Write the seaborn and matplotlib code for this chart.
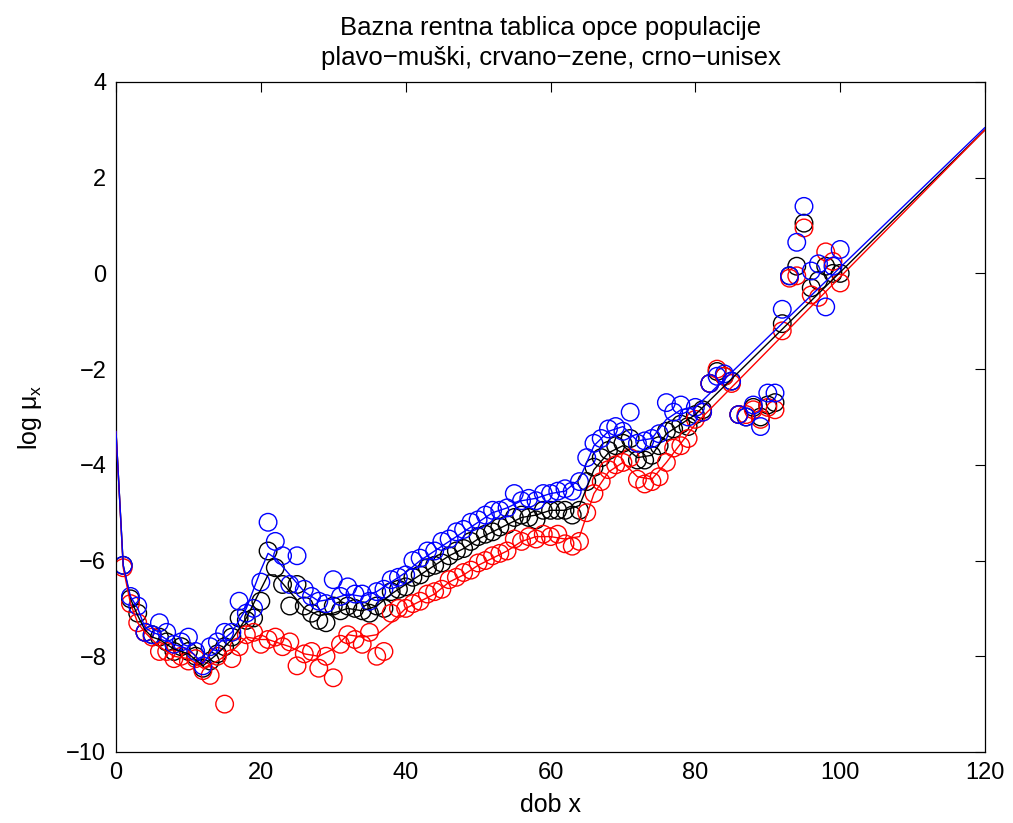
import numpy as np
import pandas as pd
import matplotlib
matplotlib.use("Agg")
import matplotlib.pyplot as plt
import seaborn as sns

# ---- data ----
ages = list(range(1, 101))

male_obs = [-6.1, -6.75, -6.95, -7.5, -7.55, -7.3, -7.5, -7.75, -7.7, -7.6,
            -7.9, -8.2, -7.8, -7.7, -7.5, -7.5, -6.85, -7.1, -7.0, -6.45,
            -5.2, -5.6, -5.9, -6.5, -5.9, -6.6, -6.75, -6.85, -6.9, -6.4,
            -6.75, -6.55, -6.7, -6.7, -6.85, -6.65, -6.6, -6.4, -6.35, -6.3,
            -6.0, -5.95, -5.8, -5.8, -5.6, -5.55, -5.4, -5.35, -5.2, -5.15,
            -5.05, -4.95, -4.95, -4.9, -4.6, -4.75, -4.7, -4.75, -4.6, -4.6,
            -4.55, -4.5, -4.55, -4.35, -3.85, -3.55, -3.45, -3.25, -3.2, -3.3,
            -2.9, -3.55, -3.5, -3.45, -3.35, -2.7, -2.9, -2.75, -3.0, -2.8,
            -2.9, -2.3, -2.15, -2.1, -2.25, -2.95, -3.0, -2.75, -3.2, -2.5,
            -2.5, -0.75, -0.05, 0.65, 1.4, 0.05, 0.2, -0.7, 0.15, 0.5]

female_obs = [-6.15, -6.9, -7.3, -7.5, -7.6, -7.9, -7.9, -8.05, -8.0, -8.1,
              -8.05, -8.3, -8.4, -8.0, -9.0, -8.05, -7.8, -7.55, -7.5, -7.75,
              -7.65, -7.6, -7.8, -7.7, -8.2, -7.95, -7.9, -8.25, -8.0, -8.45,
              -7.75, -7.55, -7.65, -7.75, -7.5, -8.0, -7.9, -7.1, -7.0, -7.0,
              -6.9, -6.85, -6.7, -6.65, -6.6, -6.4, -6.35, -6.25, -6.2, -6.05,
              -6.0, -5.9, -5.85, -5.8, -5.55, -5.6, -5.5, -5.55, -5.45, -5.5,
              -5.45, -5.65, -5.7, -5.6, -5.0, -4.6, -4.35, -4.1, -4.0, -3.95,
              -3.85, -4.3, -4.4, -4.35, -4.25, -3.95, -3.65, -3.6, -3.45, -3.05,
              -2.9, -2.3, -2.0, -2.15, -2.3, -2.95, -2.95, -2.85, -3.05, -2.8,
              -2.85, -1.2, -0.1, -0.05, 0.95, -0.45, -0.5, 0.45, 0.25, -0.2]

unisex_obs = [-6.1, -6.8, -7.1, -7.5, -7.55, -7.6, -7.7, -7.9, -7.8, -7.9,
              -8.0, -8.25, -8.1, -7.95, -7.8, -7.6, -7.2, -7.25, -7.2, -6.85,
              -5.8, -6.15, -6.5, -6.95, -6.5, -6.95, -7.1, -7.25, -7.3, -6.95,
              -7.05, -6.95, -7.0, -7.05, -7.1, -6.95, -7.0, -6.65, -6.6, -6.55,
              -6.35, -6.3, -6.15, -6.1, -6.05, -5.9, -5.8, -5.75, -5.6, -5.5,
              -5.45, -5.4, -5.3, -5.25, -5.1, -5.05, -5.1, -5.15, -4.95, -4.95,
              -4.95, -4.95, -5.05, -4.95, -4.35, -4.05, -3.85, -3.7, -3.6, -3.55,
              -3.45, -3.9, -3.9, -3.8, -3.6, -3.3, -3.25, -3.15, -3.2, -2.95,
              -2.85, -2.3, -2.05, -2.15, -2.25, -2.95, -3.0, -2.8, -3.0, -2.75,
              -2.7, -1.05, -0.05, 0.15, 1.05, -0.3, -0.15, 0.15, 0.0, 0.0]

fit_ages = [0, 1, 2, 3, 4, 5, 6, 8, 10, 12, 14, 16, 18, 20, 21, 22, 24, 26, 28,
            30, 32, 34, 36, 38, 40, 42, 44, 46, 48, 50, 52, 54, 56, 58, 60, 62,
            64, 66, 68, 70, 72, 74, 76, 78, 80, 120]

male_fit = [-3.3, -6.1, -6.75, -7.0, -7.4, -7.5, -7.55, -7.75, -7.85, -8.15,
            -7.75, -7.5, -7.0, -6.2, -5.85, -5.95, -6.3, -6.65, -6.85, -6.8,
            -6.7, -6.75, -6.65, -6.45, -6.25, -6.0, -5.8, -5.6, -5.4, -5.2,
            -5.0, -4.9, -4.75, -4.7, -4.6, -4.55, -4.3, -3.6, -3.3, -3.2,
            -3.5, -3.45, -3.05, -2.85, -2.8, 3.05]

female_fit = [-3.3, -6.15, -6.9, -7.3, -7.5, -7.65, -7.8, -8.0, -8.05, -8.25,
              -8.1, -7.9, -7.6, -7.65, -7.65, -7.7, -7.8, -7.95, -8.0, -7.85,
              -7.55, -7.6, -7.55, -7.3, -7.0, -6.85, -6.7, -6.45, -6.3, -6.1,
              -5.95, -5.8, -5.6, -5.5, -5.5, -5.55, -5.5, -4.6, -4.15, -3.95,
              -4.25, -4.3, -3.95, -3.55, -3.15, 3.0]

unisex_fit = [-3.3, -6.1, -6.8, -7.15, -7.45, -7.6, -7.65, -7.85, -7.95, -8.2,
              -7.95, -7.65, -7.2, -6.6, -6.3, -6.3, -6.65, -7.0, -7.15, -7.1,
              -7.0, -7.05, -6.95, -6.7, -6.5, -6.3, -6.1, -5.9, -5.75, -5.55,
              -5.4, -5.25, -5.1, -5.05, -4.95, -4.95, -4.85, -4.1, -3.75, -3.6,
              -3.85, -3.8, -3.35, -3.15, -2.95, 3.0]

title_lines = ["Bazna rentna tablica opce populacije",
               "plavo\u2212muški, crvano\u2212zene, crno\u2212unisex"]
x_ticks = [0, 20, 40, 60, 80, 100, 120]
y_ticks = [-10, -8, -6, -4, -2, 0, 2, 4]

# ---- style ----
sns.set_theme(style="white")
plt.rcParams["font.family"] = ["Liberation Sans", "DejaVu Sans"]
plt.rcParams["mathtext.fontset"] = "custom"
plt.rcParams["mathtext.rm"] = "Liberation Sans"
plt.rcParams["mathtext.it"] = "Liberation Sans"
plt.rcParams["text.color"] = "black"
plt.rcParams["axes.labelcolor"] = "black"

fig = plt.figure(figsize=(10.13, 8.23), dpi=100)
ax = fig.add_axes([0.1145, 0.0863, 0.8579, 0.8141])

series = [
    (unisex_obs, unisex_fit, "black"),
    (female_obs, female_fit, "red"),
    (male_obs, male_fit, "blue"),
]

for obs, fit, col in series:
    sns.scatterplot(x=ages, y=obs, ax=ax, marker="o", s=160,
                    facecolors="none", edgecolor=col, linewidth=1.0,
                    zorder=2, legend=False)
for obs, fit, col in series:
    sns.lineplot(x=fit_ages, y=fit, ax=ax, color=col, linewidth=1.0,
                 zorder=3, legend=False)

ax.set_xlim(0, 120)
ax.set_ylim(-10, 4)
ax.set_xticks(x_ticks)
ax.set_yticks(y_ticks)
ax.tick_params(direction="in", length=7, width=0.8, top=True, right=True,
               labelsize=17, colors="black", pad=7)
for sp in ax.spines.values():
    sp.set_color("black")
    sp.set_linewidth(0.9)

ax.set_xlabel("dob x", fontsize=18, labelpad=7, color="black")
ax.set_ylabel(r"log $\mathregular{\mu_x}$", fontsize=18, labelpad=16,
              color="black")
ax.set_title("\n".join(title_lines), fontsize=18.5, pad=12, linespacing=1.35,
             color="black")

fig.savefig("out.png", dpi=100, facecolor="white")
